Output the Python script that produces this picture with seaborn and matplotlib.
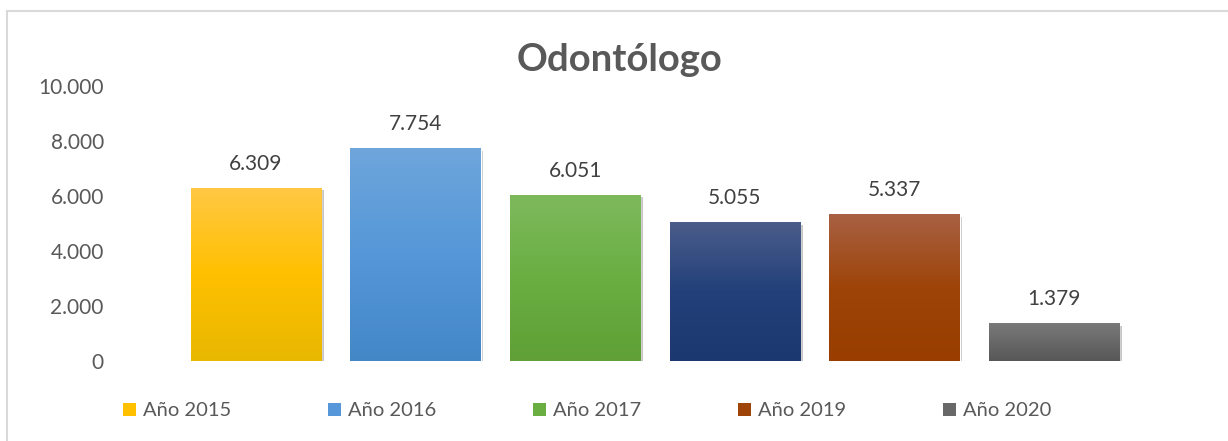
import numpy as np
import pandas as pd
import matplotlib
matplotlib.use("Agg")
import matplotlib.pyplot as plt
import matplotlib.patheffects as pe
from matplotlib.colors import to_rgb
from matplotlib.patches import Patch, Rectangle
from matplotlib.ticker import FuncFormatter
import seaborn as sb

# data
years = ["Año 2015", "Año 2016", "Año 2017", "Año 2018", "Año 2019", "Año 2020"]
values = [6309, 7754, 6051, 5055, 5337, 1379]
legend_years = ["Año 2015", "Año 2016", "Año 2017", "Año 2019", "Año 2020"]

# gradient stops per bar: top, middle, bottom
grad_top = ["#FFC845", "#6FA6DC", "#7EBA5D", "#4B5D8A", "#A86143", "#7A7A7A"]
grad_mid = ["#FFC000", "#5597D8", "#6AAE42", "#23407A", "#9E4409", "#686868"]
grad_bot = ["#E8B800", "#4487C7", "#60A036", "#1C3870", "#993D00", "#575757"]

df = pd.DataFrame({"year": years, "value": values})

sb.set_theme(style="white")
plt.rcParams["font.family"] = ["Lato", "DejaVu Sans"]

fig = plt.figure(figsize=(12.28, 4.41), dpi=100)
ax = fig.add_axes([176 / 1228, 1 - 361 / 441, 958 / 1228, 275 / 441])

sb.barplot(data=df, x="year", y="value", hue="year", palette=grad_mid,
           width=0.815, legend=False, ax=ax, saturation=1)

ax.set_ylim(0, 10000)
xlim = ax.get_xlim()

# gradient fill + soft shadow on each bar
for p in ax.patches:
    i = int(round(p.get_x() + p.get_width() / 2))
    top, mid, bot = (np.array(to_rgb(c)) for c in (grad_top[i], grad_mid[i], grad_bot[i]))
    t = np.linspace(0, 1, 200)[:, None]
    col = np.where(t < 0.5, top + (mid - top) * (t / 0.5), mid + (bot - mid) * ((t - 0.5) / 0.5))
    img = col[:, None, :]
    p.set_path_effects([pe.SimplePatchShadow(offset=(2, -2), shadow_rgbFace="#7F7F7F", alpha=0.45),
                        pe.Normal()])
    im = ax.imshow(img, extent=[p.get_x(), p.get_x() + p.get_width(), 0, p.get_height()],
                   origin="upper", aspect="auto", zorder=p.get_zorder() + 0.1)
    im.set_clip_path(p)

ax.set_xlim(xlim)
ax.set_ylim(0, 10000)

fmt = lambda v: f"{int(v):,}".replace(",", ".")
for c in ax.containers:
    ax.bar_label(c, labels=[fmt(v) for v in c.datavalues], padding=10,
                 fontsize=15, color="#404040")

ax.set_yticks(range(0, 10001, 2000))
ax.yaxis.set_major_formatter(FuncFormatter(lambda v, _: fmt(v)))
ax.tick_params(axis="y", labelsize=15, labelcolor="#595959", length=0, pad=52)
ax.set_xticks([])
ax.set_xlabel("")
ax.set_ylabel("")
for s in ax.spines.values():
    s.set_visible(False)

fig.text(620 / 1228, 1 - 60 / 441, "Odontólogo", ha="center", va="center",
         fontsize=27.5, fontweight="bold", color="#595959")

handles = [Patch(facecolor=grad_mid[years.index(y)], edgecolor="none") for y in legend_years]
fig.legend(handles, legend_years, loc="center left", bbox_to_anchor=(105 / 1228, 1 - 411 / 441),
           ncol=5, frameon=False, fontsize=14.5, labelcolor="#595959",
           handlelength=0.65, handleheight=0.65, handletextpad=0.35, columnspacing=4.8)

fig.patches.append(Rectangle((7 / 1228, -0.1), 1.2, 1.1 - 11 / 441, transform=fig.transFigure,
                             fill=False, edgecolor="#D9D9D9", linewidth=1.5, zorder=0))

fig.savefig("out.png", dpi=100, facecolor="white")
